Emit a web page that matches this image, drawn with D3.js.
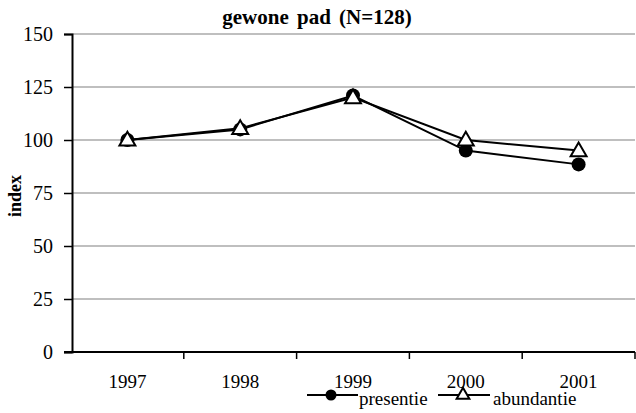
<html>
<head>
  <meta charset="utf-8" />
  <script src="https://d3js.org/d3.v7.min.js"></script>
  <style>
    svg text { font-family: 'Liberation Serif', 'Times New Roman', serif !important; }
  </style>
</head>
<body style="margin: 0; background: white">
<script>

var years = ['1997', '1998', '1999', '2000', '2001']
var presentie = [100, 105, 121, 95, 88.5]
var abundantie = [100, 105.5, 120, 100, 95]
var yTicks = [0, 25, 50, 75, 100, 125, 150]

var width = 636, height = 413
var margin = {top: 34, right: 1, bottom: 61, left: 72}
var serif = "'Liberation Serif', 'Times New Roman', serif"

var svg = d3.select("body").append("svg")
            .attr("width", width)
            .attr("height", height)
            .attr("font-family", serif)

var x = d3.scaleBand().domain(years).range([margin.left - 1, width - margin.right])
var y = d3.scaleLinear().domain([0, 150]).range([height - margin.bottom, margin.top])

// gridlines
svg.append("g")
  .selectAll("line")
  .data(yTicks.filter(d => d > 0))
  .enter().append("line")
  .attr("x1", margin.left)
  .attr("x2", width - margin.right)
  .attr("y1", d => y(d))
  .attr("y2", d => y(d))
  .attr("stroke", "#808080")
  .attr("stroke-width", 1.2)

// y axis
var yAxis = svg.append("g")
  .attr("transform", "translate(" + margin.left + ",0)")
  .call(d3.axisLeft(y).tickValues(yTicks).tickSize(8).tickPadding(11))
yAxis.attr("font-family", serif).attr("font-size", 20)
yAxis.select(".domain").attr("stroke-width", 2)
yAxis.selectAll(".tick line").attr("stroke-width", 1.5)
yAxis.selectAll("text").attr("fill", "black").attr("dy", "0.33em")
  .attr("font-family", serif)

// x axis with ticks between categories
var xAxis = svg.append("g")
  .attr("transform", "translate(0," + y(0) + ")")
xAxis.append("line")
  .attr("x1", margin.left - 8).attr("x2", width - margin.right)
  .attr("stroke", "black").attr("stroke-width", 2)
xAxis.selectAll(".tk")
  .data(years)
  .enter().append("line")
  .attr("class", "tk")
  .attr("x1", d => x(d) + x.bandwidth())
  .attr("x2", d => x(d) + x.bandwidth())
  .attr("y1", 0).attr("y2", 7)
  .attr("stroke", "black").attr("stroke-width", 1.5)
xAxis.selectAll("text")
  .data(years)
  .enter().append("text")
  .attr("x", d => x(d) + x.bandwidth() / 2)
  .attr("y", 36)
  .attr("text-anchor", "middle")
  .attr("font-family", serif)
  .attr("font-size", 19)
  .text(d => d)

var cx = d => x(d) + x.bandwidth() / 2
var line = d3.line().x((d, i) => cx(years[i])).y(d => y(d))

svg.append("path").datum(abundantie)
  .attr("d", line).attr("fill", "none")
  .attr("stroke", "black").attr("stroke-width", 2)
svg.append("path").datum(presentie)
  .attr("d", line).attr("fill", "none")
  .attr("stroke", "black").attr("stroke-width", 2)

svg.append("g").selectAll("circle")
  .data(presentie)
  .enter().append("circle")
  .attr("cx", (d, i) => cx(years[i]))
  .attr("cy", d => y(d))
  .attr("r", 7)
  .attr("fill", "black")

var tri = d3.symbol().type(d3.symbolTriangle).size(110)
svg.append("g").selectAll("path")
  .data(abundantie)
  .enter().append("path")
  .attr("d", tri)
  .attr("transform", (d, i) => "translate(" + cx(years[i]) + "," + (y(d) + 1) + ")")
  .attr("fill", "white")
  .attr("stroke", "black")
  .attr("stroke-width", 2)

// title
svg.append("text")
  .attr("x", 317).attr("y", 24)
  .attr("text-anchor", "middle")
  .attr("font-family", serif)
  .attr("font-size", 21).attr("font-weight", "bold")
  .attr("word-spacing", 3)
  .text("gewone pad (N=128)")

// y label
svg.append("text")
  .attr("transform", "translate(21,196) rotate(-90)")
  .attr("text-anchor", "middle")
  .attr("font-family", serif)
  .attr("font-size", 18).attr("font-weight", "bold")
  .text("index")

// legend
var legend = svg.append("g").attr("transform", "translate(0,395)")
legend.append("line").attr("x1", 307).attr("x2", 358).attr("stroke", "black").attr("stroke-width", 2)
legend.append("circle").attr("cx", 331).attr("r", 5.5).attr("fill", "black")
legend.append("text").attr("x", 359).attr("y", 10).attr("font-family", serif).attr("font-size", 19).text("presentie")
legend.append("line").attr("x1", 438).attr("x2", 490).attr("stroke", "black").attr("stroke-width", 2)
legend.append("path").attr("d", d3.symbol().type(d3.symbolTriangle).size(70))
  .attr("transform", "translate(463,0)")
  .attr("fill", "white").attr("stroke", "black").attr("stroke-width", 2)
legend.append("text").attr("x", 493).attr("y", 10).attr("font-family", serif).attr("font-size", 19).text("abundantie")

</script>
</body>
</html>
